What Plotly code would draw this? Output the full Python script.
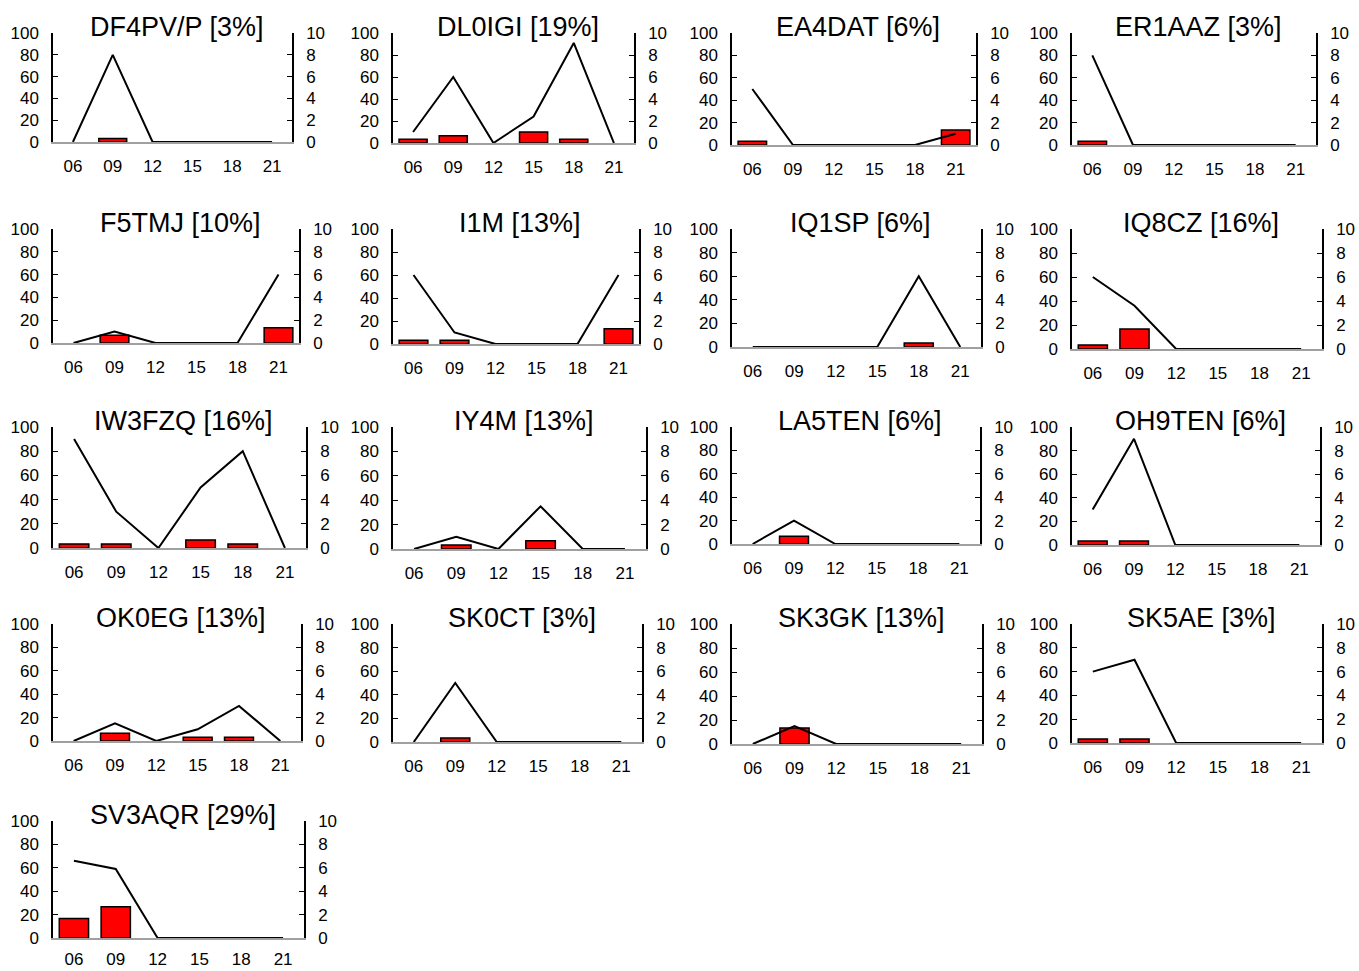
import plotly.graph_objects as go

hours = ["06", "09", "12", "15", "18", "21"]

names = ["DF4PV/P", "DL0IGI", "EA4DAT", "ER1AAZ",
         "F5TMJ", "I1M", "IQ1SP", "IQ8CZ",
         "IW3FZQ", "IY4M", "LA5TEN", "OH9TEN",
         "OK0EG", "SK0CT", "SK3GK", "SK5AE",
         "SV3AQR"]
percent = [3, 19, 6, 3, 10, 13, 6, 16, 16, 13, 6, 6, 13, 3, 13, 3, 29]

# line series (left axis, 0-100)
line_df4pvp = [0, 80, 0, 0, 0, 0]
line_dl0igi = [10, 60, 0, 24, 91, 0]
line_ea4dat = [50, 0, 0, 0, 0, 10]
line_er1aaz = [80, 0, 0, 0, 0, 0]
line_f5tmj = [0, 10, 0, 0, 0, 60]
line_i1m = [60, 10, 0, 0, 0, 60]
line_iq1sp = [0, 0, 0, 0, 60, 0]
line_iq8cz = [60, 36, 0, 0, 0, 0]
line_iw3fzq = [90, 30, 0, 50, 80, 0]
line_iy4m = [0, 10, 0, 35, 0, 0]
line_la5ten = [0, 20, 0, 0, 0, 0]
line_oh9ten = [30, 90, 0, 0, 0, 0]
line_ok0eg = [0, 15, 0, 10, 30, 0]
line_sk0ct = [0, 50, 0, 0, 0, 0]
line_sk3gk = [0, 15, 0, 0, 0, 0]
line_sk5ae = [60, 70, 0, 0, 0, 0]
line_sv3aqr = [66, 59, 0, 0, 0, 0]

# bar series (right axis, 0-10)
bar_df4pvp = [0, 0.33, 0, 0, 0, 0]
bar_dl0igi = [0.33, 0.67, 0, 1.0, 0.33, 0]
bar_ea4dat = [0.33, 0, 0, 0, 0, 1.33]
bar_er1aaz = [0.33, 0, 0, 0, 0, 0]
bar_f5tmj = [0, 0.67, 0, 0, 0, 1.33]
bar_i1m = [0.33, 0.33, 0, 0, 0, 1.33]
bar_iq1sp = [0, 0, 0, 0, 0.33, 0]
bar_iq8cz = [0.33, 1.67, 0, 0, 0, 0]
bar_iw3fzq = [0.33, 0.33, 0, 0.67, 0.33, 0]
bar_iy4m = [0, 0.33, 0, 0.67, 0, 0]
bar_la5ten = [0, 0.67, 0, 0, 0, 0]
bar_oh9ten = [0.33, 0.33, 0, 0, 0, 0]
bar_ok0eg = [0, 0.67, 0, 0.33, 0.33, 0]
bar_sk0ct = [0, 0.33, 0, 0, 0, 0]
bar_sk3gk = [0, 1.33, 0, 0, 0, 0]
bar_sk5ae = [0.33, 0.33, 0, 0, 0, 0]
bar_sv3aqr = [1.67, 2.67, 0, 0, 0, 0]

lines = [line_df4pvp, line_dl0igi, line_ea4dat, line_er1aaz, line_f5tmj, line_i1m,
         line_iq1sp, line_iq8cz, line_iw3fzq, line_iy4m, line_la5ten, line_oh9ten,
         line_ok0eg, line_sk0ct, line_sk3gk, line_sk5ae, line_sv3aqr]
bars = [bar_df4pvp, bar_dl0igi, bar_ea4dat, bar_er1aaz, bar_f5tmj, bar_i1m,
        bar_iq1sp, bar_iq8cz, bar_iw3fzq, bar_iy4m, bar_la5ten, bar_oh9ten,
        bar_ok0eg, bar_sk0ct, bar_sk3gk, bar_sk5ae, bar_sv3aqr]

left_ticks = [0, 20, 40, 60, 80, 100]
right_ticks = [0, 2, 4, 6, 8, 10]

# ---- layout geometry (pixels) ----
W, H = 1359, 971
col_left = [53, 393, 732, 1072]
panel_right = [292, 634, 976, 1316, 299, 639, 981, 1322, 306, 646, 980, 1320,
               301, 642, 982, 1322, 304]
row_top = [33, 229, 427, 624, 821]
panel_bottom = [142, 143, 145, 145, 343, 344, 347, 349, 548, 549, 544, 545,
                741, 742, 744, 743, 938]

FONT = "Liberation Sans, Arial, sans-serif"
fig = go.Figure()
layout = dict(width=W, height=H, margin=dict(l=0, r=0, t=0, b=0, autoexpand=False),
              paper_bgcolor="white", plot_bgcolor="white", showlegend=False,
              font=dict(family=FONT, color="black", size=17), annotations=[])

for i, name in enumerate(names):
    r, c = divmod(i, 4)
    x0 = col_left[c] / W
    x1 = panel_right[i] / W
    y0 = 1 - panel_bottom[i] / H
    y1 = 1 - row_top[r] / H
    xn = "x" if i == 0 else f"x{i+1}"
    yb = f"y{2*i+1}" if i > 0 else "y"
    yl = f"y{2*i+2}"
    xk = "xaxis" if i == 0 else f"xaxis{i+1}"
    ybk = "yaxis" if i == 0 else f"yaxis{2*i+1}"
    ylk = f"yaxis{2*i+2}"

    bvals = [v if v != 0 else None for v in bars[i]]
    fig.add_trace(go.Bar(x=hours, y=bvals, xaxis=xn, yaxis=yb, width=0.7,
                         marker=dict(color="#ff0000", line=dict(color="black", width=1.5))))
    fig.add_trace(go.Scatter(x=hours, y=lines[i], xaxis=xn, yaxis=yl, mode="lines",
                             line=dict(color="black", width=2), cliponaxis=False))

    layout[xk] = dict(domain=[x0, x1], anchor=yb, type="category", automargin=False,
                      range=[-0.5, 5.5], showgrid=False, zeroline=False,
                      showline=True, linecolor="#a0a0a0", linewidth=1.5,
                      ticks="", ticklabelstandoff=(5 if r == 4 else 8),
                      layer="below traces",
                      tickfont=dict(size=17, family=FONT))
    layout[ybk] = dict(domain=[y0, y1], anchor=xn, side="right", range=[0, 10],
                       automargin=False,
                       tickvals=right_ticks, ticks="inside", ticklen=5,
                       tickcolor="black", tickwidth=1.2, showline=True,
                       linecolor="black", linewidth=1.5, showgrid=False,
                       zeroline=False, ticklabelstandoff=9,
                       tickfont=dict(size=17, family=FONT))
    layout[ylk] = dict(domain=[y0, y1], anchor=xn, overlaying=yb, side="left",
                       range=[0, 100], tickvals=left_ticks, ticks="inside",
                       automargin=False,
                       ticklen=5, tickcolor="black", tickwidth=1.2, showline=True,
                       linecolor="black", linewidth=1.5, showgrid=False,
                       zeroline=False, ticklabelstandoff=9,
                       tickfont=dict(size=17, family=FONT))
    cx = (col_left[c] + panel_right[i]) / 2 + 4
    layout["annotations"].append(dict(
        text=f"{name} [{percent[i]}%]", x=cx / W, y=1 - (row_top[r] - 6) / H,
        xref="paper", yref="paper", xanchor="center", yanchor="middle",
        showarrow=False, font=dict(size=27, family=FONT, color="black")))

fig.update_layout(**layout)
fig.write_html("out.html", config={"displayModeBar": False},
               post_script="document.body.style.margin='0';document.body.style.overflow='hidden';")
